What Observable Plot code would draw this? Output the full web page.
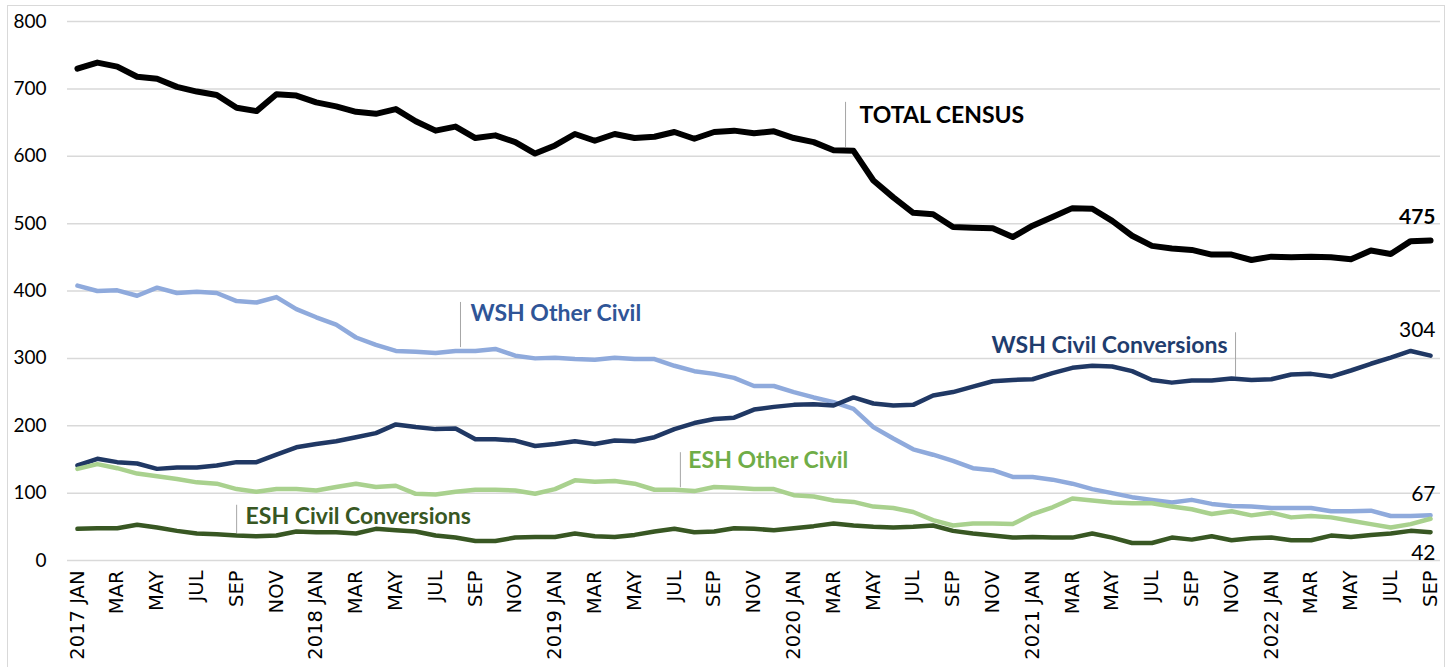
<!DOCTYPE html>
<html><head><meta charset="utf-8">
<script src="https://cdn.jsdelivr.net/npm/d3@7"></script>
<script src="https://cdn.jsdelivr.net/npm/@observablehq/plot@0.6"></script>
<style>
body{margin:0;background:#fff;}
#frame{position:absolute;left:7px;top:5px;width:1438px;height:700px;border:1.5px solid #d9d9d9;box-sizing:border-box;}
#chart{position:absolute;left:0;top:0;}
</style></head><body><div id="frame"></div><div id="chart"></div>
<script>
const monthNames = ["JAN","FEB","MAR","APR","MAY","JUN","JUL","AUG","SEP","OCT","NOV","DEC"];
const startYear = 2017;
const monthCount = 69; // 2017 JAN .. 2022 SEP

const totalCensus = [730,739,733,718,715,703,696,691,672,667,692,690,680,674,666,663,670,652,638,644,627,631,621,604,616,633,623,633,627,629,636,626,636,638,634,637,627,621,609,608,564,539,516,514,495,494,493,480,497,510,523,522,504,482,467,463,461,454,454,446,451,450,451,450,447,460,455,474,475];
const wshOtherCivil = [408,400,401,393,405,397,399,397,385,383,391,373,361,350,331,320,311,310,308,311,311,314,304,300,301,299,298,301,299,299,289,281,277,271,259,259,250,242,235,225,198,181,165,157,148,137,134,124,124,120,114,106,100,94,90,86,90,84,81,80,78,78,78,73,73,74,66,66,67];
const wshCivilConv = [141,151,146,144,136,138,138,141,146,146,157,168,173,177,183,189,202,198,195,196,180,180,178,170,173,177,173,178,177,183,195,204,210,212,224,228,231,232,230,242,233,230,231,245,250,258,266,268,269,278,286,289,288,281,268,264,267,267,270,268,269,276,277,273,282,292,301,311,304];
const eshOtherCivil = [136,143,137,129,125,121,116,114,106,102,106,106,104,109,114,109,111,99,98,102,105,105,104,99,106,119,117,118,114,105,105,103,109,108,106,106,97,95,89,87,80,78,72,60,52,55,55,54,69,79,92,89,86,85,85,80,76,69,73,67,71,64,66,64,59,54,49,54,62];
const eshCivilConv = [47,48,48,53,49,44,40,39,37,36,37,43,42,42,40,47,45,43,37,34,29,29,34,35,35,40,36,35,38,43,47,42,43,48,47,45,48,51,55,52,50,49,50,52,44,40,37,34,35,34,34,40,34,26,26,34,31,36,30,33,34,30,30,37,35,38,40,44,42];

const monthLabels = d3.range(monthCount).map(i => {
  const m = i % 12, y = startYear + Math.floor(i / 12);
  return m === 0 ? `${y} ${monthNames[m]}` : monthNames[m];
});
const tickIdx = d3.range(0, monthCount, 2);

const series = [
  {name: "TOTAL CENSUS", values: totalCensus, color: "#000000", width: 6},
  {name: "WSH Other Civil", values: wshOtherCivil, color: "#8faadc", width: 4.5},
  {name: "WSH Civil Conversions", values: wshCivilConv, color: "#203864", width: 4.5},
  {name: "ESH Other Civil", values: eshOtherCivil, color: "#a9d18e", width: 4.5},
  {name: "ESH Civil Conversions", values: eshCivilConv, color: "#385723", width: 4.5}
];

// annotation callouts (label, text anchor position in data units, leader line)
const annotations = [
  {label: "TOTAL CENSUS", tx: 39.3, ty: 660, anchor: "start", color: "#000000", lx: 38.6, ly1: 680, ly2: 613},
  {label: "WSH Other Civil", tx: 19.75, ty: 366, anchor: "start", color: "#2f5597", lx: 19.25, ly1: 383, ly2: 316},
  {label: "WSH Civil Conversions", tx: 57.8, ty: 319, anchor: "end", color: "#1f3d6e", lx: 58.2, ly1: 338, ly2: 272},
  {label: "ESH Other Civil", tx: 30.7, ty: 148, anchor: "start", color: "#70ad47", lx: 30.3, ly1: 160, ly2: 108},
  {label: "ESH Civil Conversions", tx: 8.45, ty: 65, anchor: "start", color: "#385723", lx: 8.0, ly1: 82, ly2: 40}
];
const endLabels = [
  {values: totalCensus, dy: -23, weight: "bold"},
  {values: wshCivilConv, dy: -25, weight: "normal"},
  {values: wshOtherCivil, dy: -21, weight: "normal"},
  {values: eshCivilConv, dy: 21, weight: "normal"}
];

const lineMarks = series.map(s => Plot.lineY(s.values, {
  x: (d, i) => i, y: d => d, stroke: s.color, strokeWidth: s.width,
  strokeLinejoin: "round", strokeLinecap: "round"
}));

const last = monthCount - 1;
const endMarks = endLabels.map(e => Plot.text([e.values[last]], {
  x: () => last, y: d => d, text: d => String(d), textAnchor: "end", dx: 5, dy: e.dy,
  fontSize: 21, fontWeight: e.weight, fill: "#000", fontFamily: "Lato"
}));

const annotMarks = ["start", "end"].map(a => Plot.text(annotations.filter(d => d.anchor === a), {
  x: "tx", y: "ty", text: "label", textAnchor: a, fill: d => d.color,
  fontSize: 23, fontWeight: "bold", fontFamily: "Lato"
}));

const chart = Plot.plot({
  width: 1452, height: 667,
  marginLeft: 67, marginRight: 12, marginTop: 21, marginBottom: 107,
  x: {type: "linear", domain: [-0.5, 68.5]},
  y: {domain: [0, 800]},
  style: {fontFamily: "Lato", background: "transparent", color: "#000"},
  marks: [
    Plot.gridY(d3.range(0, 801, 100), {stroke: "#d9d9d9", strokeOpacity: 1, strokeWidth: 1.5}),
    Plot.axisY(d3.range(0, 801, 100), {tickSize: 0, tickPadding: 21, fontSize: 19, fontFamily: "Lato", label: null}),
    Plot.axisX(tickIdx, {tickSize: 0, tickPadding: 10, tickRotate: -90, tickFormat: i => monthLabels[i],
      fontSize: 19.5, fontFamily: "DejaVu Sans", label: null}),
    Plot.ruleX(annotations, {x: "lx", y1: "ly1", y2: "ly2", stroke: "#a6a6a6", strokeWidth: 1}),
    ...lineMarks,
    ...annotMarks,
    ...endMarks
  ]
});
document.getElementById("chart").appendChild(chart);
</script></body></html>
